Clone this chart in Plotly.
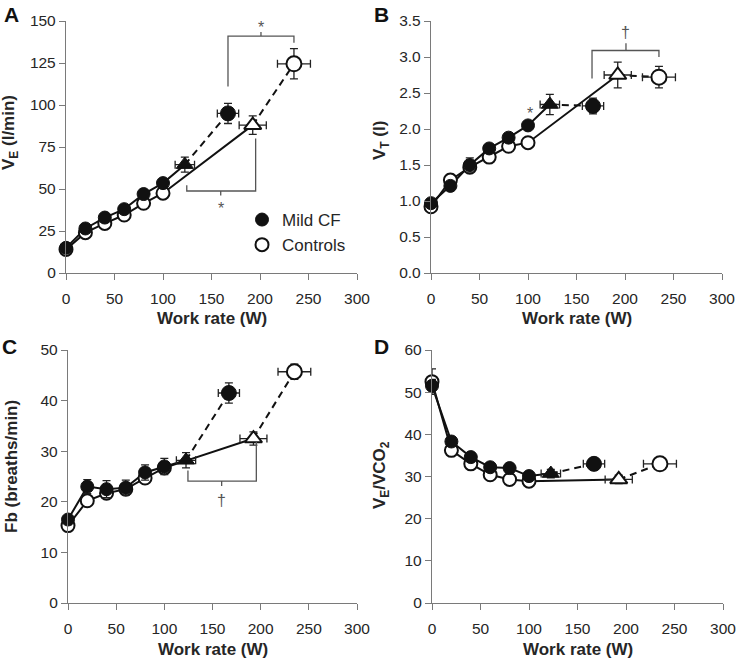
import plotly.graph_objects as go
from plotly.subplots import make_subplots

# ---------------- data ----------------
WORK = [0, 20, 40, 60, 80, 100]           # work rate stages (W)

# threshold (triangle) and peak work rates, with SD (W)
CF_THR_W, CF_THR_WERR = 122.5, 10
CF_PEAK_W, CF_PEAK_WERR = 167, 11
CT_THR_W, CT_THR_WERR = 192.5, 14
CT_PEAK_W, CT_PEAK_WERR = 235, 17

# Panel A: VE (l/min)
VE_CF = [15, 26.5, 33, 38, 47, 53.5]
VE_CF_ERR = [1.5, 1.5, 1.5, 1.5, 1.5, 1.5]
VE_CF_THR, VE_CF_THR_ERR = 64.5, 4.5
VE_CF_PEAK, VE_CF_PEAK_ERR = 95, 6
VE_CT = [14, 24, 29.5, 34.5, 41.5, 47.5]
VE_CT_ERR = [1.5, 1.5, 1.5, 1.5, 1.5, 1.5]
VE_CT_THR, VE_CT_THR_ERR = 88, 5.5
VE_CT_PEAK, VE_CT_PEAK_ERR = 124.5, 9

# Panel B: VT (l)
VT_CF = [0.97, 1.21, 1.50, 1.73, 1.88, 2.05]
VT_CF_ERR = [0.05, 0.05, 0.10, 0.05, 0.05, 0.05]
VT_CF_THR, VT_CF_THR_ERR = 2.34, 0.14
VT_CF_PEAK, VT_CF_PEAK_ERR = 2.32, 0.11
VT_CT = [0.92, 1.29, 1.47, 1.61, 1.76, 1.81]
VT_CT_ERR = [0.05, 0.08, 0.05, 0.05, 0.05, 0.05]
VT_CT_THR, VT_CT_THR_ERR = 2.75, 0.18
VT_CT_PEAK, VT_CT_PEAK_ERR = 2.72, 0.15

# Panel C: Fb (breaths/min)
FB_CF = [16.5, 23, 22.5, 22.8, 25.8, 27]
FB_CF_ERR = [1.0, 1.4, 1.7, 1.5, 1.5, 1.6]
FB_CF_THR, FB_CF_THR_ERR = 28.2, 1.5
FB_CF_PEAK, FB_CF_PEAK_ERR = 41.5, 2.0
FB_CT = [15.3, 20.2, 21.7, 22.5, 24.7, 26.7]
FB_CT_ERR = [1.0, 1.0, 1.0, 1.0, 1.0, 1.0]
FB_CT_THR, FB_CT_THR_ERR = 32.5, 1.3
FB_CT_PEAK, FB_CT_PEAK_ERR = 45.7, 1.5

# Panel D: VE/VCO2
VV_CF = [51.5, 38.3, 34.6, 32.2, 32.0, 30.1]
VV_CF_ERR = [1.5, 1.0, 1.0, 1.0, 1.0, 1.0]
VV_CF_THR, VV_CF_THR_ERR = 30.7, 1.0
VV_CF_PEAK, VV_CF_PEAK_ERR = 33.0, 1.0
VV_CT = [52.5, 36.2, 33.0, 30.4, 29.3, 28.9]
VV_CT_ERR = [3.0, 1.0, 1.0, 1.0, 1.0, 1.0]
VV_CT_THR, VV_CT_THR_ERR = 29.3, 1.0
VV_CT_PEAK, VV_CT_PEAK_ERR = 33.0, 1.0

X_TICKS = [0, 50, 100, 150, 200, 250, 300]
A_TICKS = [0, 25, 50, 75, 100, 125, 150]
B_TICKS = [0.0, 0.5, 1.0, 1.5, 2.0, 2.5, 3.0, 3.5]
C_TICKS = [0, 10, 20, 30, 40, 50]
D_TICKS = [0, 10, 20, 30, 40, 50, 60]

# ---------------- figure ----------------
W, H = 742, 662
FONT = "Arial, Liberation Sans, sans-serif"
AXC = "#7a7a7a"
TXT = "#262626"
INK = "#111111"


def pxx(p):
    return p / W


def pxy(p):
    return 1 - p / H


fig = make_subplots(rows=2, cols=2)

panels = [
    dict(r=1, c=1, cf=VE_CF, cfe=VE_CF_ERR, cft=(VE_CF_THR, VE_CF_THR_ERR), cfp=(VE_CF_PEAK, VE_CF_PEAK_ERR),
         ct=VE_CT, cte=VE_CT_ERR, ctt=(VE_CT_THR, VE_CT_THR_ERR), ctp=(VE_CT_PEAK, VE_CT_PEAK_ERR)),
    dict(r=1, c=2, cf=VT_CF, cfe=VT_CF_ERR, cft=(VT_CF_THR, VT_CF_THR_ERR), cfp=(VT_CF_PEAK, VT_CF_PEAK_ERR),
         ct=VT_CT, cte=VT_CT_ERR, ctt=(VT_CT_THR, VT_CT_THR_ERR), ctp=(VT_CT_PEAK, VT_CT_PEAK_ERR)),
    dict(r=2, c=1, cf=FB_CF, cfe=FB_CF_ERR, cft=(FB_CF_THR, FB_CF_THR_ERR), cfp=(FB_CF_PEAK, FB_CF_PEAK_ERR),
         ct=FB_CT, cte=FB_CT_ERR, ctt=(FB_CT_THR, FB_CT_THR_ERR), ctp=(FB_CT_PEAK, FB_CT_PEAK_ERR)),
    dict(r=2, c=2, cf=VV_CF, cfe=VV_CF_ERR, cft=(VV_CF_THR, VV_CF_THR_ERR), cfp=(VV_CF_PEAK, VV_CF_PEAK_ERR),
         ct=VV_CT, cte=VV_CT_ERR, ctt=(VV_CT_THR, VV_CT_THR_ERR), ctp=(VV_CT_PEAK, VV_CT_PEAK_ERR)),
]

LINE = dict(color=INK, width=2)
DASH = dict(color=INK, width=2, dash="7px,5px")


def ebar(arr):
    return dict(type="data", array=arr, color="#222222", thickness=1.3, width=4)


def open_marker(sym, size):
    return dict(symbol=sym, size=size, color="white", opacity=1, line=dict(color=INK, width=2))


def fill_marker(sym, size):
    return dict(symbol=sym, size=size, color=INK, opacity=1, line=dict(color=INK, width=1))


def pts(x, y, marker, ey, ex=None, name=None, legend=False, rank=1):
    kw = dict(x=x, y=y, mode="markers", marker=marker, cliponaxis=False, showlegend=legend,
              error_y=ebar(ey), hoverinfo="skip")
    if ex is not None:
        kw["error_x"] = ebar(ex)
    if name:
        kw["name"] = name
        kw["legendrank"] = rank
    return go.Scatter(**kw)


for i, p in enumerate(panels):
    r, c = p["r"], p["c"]
    first = i == 0
    # control lines
    fig.add_trace(go.Scatter(x=WORK + [CT_THR_W], y=p["ct"] + [p["ctt"][0]], mode="lines", line=LINE,
                             showlegend=False, hoverinfo="skip"), row=r, col=c)
    fig.add_trace(go.Scatter(x=[CT_THR_W, CT_PEAK_W], y=[p["ctt"][0], p["ctp"][0]], mode="lines", line=DASH,
                             showlegend=False, hoverinfo="skip"), row=r, col=c)
    # CF lines
    fig.add_trace(go.Scatter(x=WORK + [CF_THR_W], y=p["cf"] + [p["cft"][0]], mode="lines", line=LINE,
                             showlegend=False, hoverinfo="skip"), row=r, col=c)
    fig.add_trace(go.Scatter(x=[CF_THR_W, CF_PEAK_W], y=[p["cft"][0], p["cfp"][0]], mode="lines", line=DASH,
                             showlegend=False, hoverinfo="skip"), row=r, col=c)
    # control markers
    fig.add_trace(pts(WORK, p["ct"], open_marker("circle", 13), p["cte"],
                      name="Controls", legend=first, rank=2), row=r, col=c)
    fig.add_trace(pts([CT_PEAK_W], [p["ctp"][0]], open_marker("circle", 15), [p["ctp"][1]],
                      [CT_PEAK_WERR]), row=r, col=c)
    fig.add_trace(pts([CT_THR_W], [p["ctt"][0]], open_marker("triangle-up", 15), [p["ctt"][1]],
                      [CT_THR_WERR]), row=r, col=c)
    # CF markers
    fig.add_trace(pts(WORK, p["cf"], fill_marker("circle", 13), p["cfe"],
                      name="Mild CF", legend=first, rank=1), row=r, col=c)
    fig.add_trace(pts([CF_PEAK_W], [p["cfp"][0]], fill_marker("circle", 15), [p["cfp"][1]],
                      [CF_PEAK_WERR]), row=r, col=c)
    fig.add_trace(pts([CF_THR_W], [p["cft"][0]], fill_marker("triangle-up", 15), [p["cft"][1]],
                      [CF_THR_WERR]), row=r, col=c)

# axes
xdom = {1: [pxx(66), pxx(357)], 2: [pxx(431), pxx(722)], 3: [pxx(68), pxx(357)], 4: [pxx(432), pxx(723)]}
ydom = {1: [pxy(273), pxy(21)], 2: [pxy(273), pxy(21)], 3: [pxy(603), pxy(350)], 4: [pxy(603), pxy(350)]}
yranges = {1: ([0, 150], A_TICKS, None), 2: ([0, 3.5], B_TICKS, ".1f"),
           3: ([0, 50], C_TICKS, None), 4: ([0, 60], D_TICKS, None)}

axis_common = dict(showline=True, linecolor=AXC, linewidth=1.3, ticks="outside", ticklen=6, tickwidth=1.3,
                   tickcolor=AXC, showgrid=False, zeroline=False, automargin=False,
                   tickfont=dict(family=FONT, size=15.5, color=TXT))
for k in range(1, 5):
    sx = "" if k == 1 else str(k)
    fig.layout["xaxis" + sx].update(domain=xdom[k], range=[0, 300], tickvals=X_TICKS,
                                    ticklabelstandoff=5, **axis_common)
    rng, tv, fmt = yranges[k]
    fig.layout["yaxis" + sx].update(domain=ydom[k], range=rng, tickvals=tv, **axis_common)
    if fmt:
        fig.layout["yaxis" + sx].tickformat = fmt

# brackets (shapes)
BR = dict(color="#555555", width=1.3)


def bracket(xref, yref, x1, x2, ylev, y1end, y2end, xm, ymend):
    fig.add_shape(type="path", xref=xref, yref=yref, line=BR,
                  path=f"M {x1},{y1end} L {x1},{ylev} L {x2},{ylev} L {x2},{y2end}")
    fig.add_shape(type="line", xref=xref, yref=yref, line=BR, x0=xm, x1=xm, y0=ylev, y1=ymend)


# A: top bracket (peaks), bottom bracket (thresholds)
bracket("x", "y", CF_PEAK_W, CT_PEAK_W, 141, 111, 137, (CF_PEAK_W + CT_PEAK_W) / 2, 143.5)
bracket("x", "y", 124.5, 195.5, 48.8, 52.2, 80, 159.5, 46.2)
# B: top bracket
bracket("x2", "y2", 166, 235, 3.09, 2.70, 3.0, 201, 3.19)
# C: bottom bracket
bracket("x3", "y3", 124.5, 195.5, 24.1, 26.2, 31.8, 159.5, 23.1)

SIG = dict(family=FONT, size=16, color="#555555")
ann = [
    dict(text="*", x=(CF_PEAK_W + CT_PEAK_W) / 2, y=146, xref="x", yref="y"),
    dict(text="*", x=159.5, y=38.5, xref="x", yref="y"),
    dict(text="\u2020", x=201, y=3.34, xref="x2", yref="y2"),
    dict(text="*", x=102, y=2.22, xref="x2", yref="y2"),
    dict(text="\u2020", x=159.5, y=20.3, xref="x3", yref="y3"),
]
for a in ann:
    fig.add_annotation(showarrow=False, font=SIG, xanchor="center", yanchor="middle", **a)

# axis titles and panel letters as annotations (paper coordinates)
TT = dict(family=FONT, size=17, color=TXT)
titles = [
    ("<b>Work rate (W)</b>", 211.5, 319, 0),
    ("<b>Work rate (W)</b>", 576.5, 319, 0),
    ("<b>Work rate (W)</b>", 212.5, 649, 0),
    ("<b>Work rate (W)</b>", 577.5, 649, 0),
    ("<b>V<sub>E</sub> (l/min)</b>", 10, 133, -90),
    ("<b>V<sub>T</sub> (l)</b>", 381, 141, -90),
    ("<b>Fb (breaths/min)</b>", 12, 467, -90),
    ("<b>V<sub>E</sub>/VCO<sub>2</sub></b>", 381, 475, -90),
]
for t, x, y, ang in titles:
    fig.add_annotation(text=t, x=pxx(x), y=pxy(y), xref="paper", yref="paper", showarrow=False,
                       font=TT, textangle=ang, xanchor="center", yanchor="middle")

LET = dict(family=FONT, size=21, color=INK)
for t, x, y in [("A", 11, 15), ("B", 381, 15), ("C", 9, 346), ("D", 381, 346)]:
    fig.add_annotation(text=f"<b>{t}</b>", x=pxx(x), y=pxy(y), xref="paper", yref="paper", showarrow=False,
                       font=LET, xanchor="center", yanchor="middle")

fig.update_layout(
    template="none",
    width=W, height=H, margin=dict(l=0, r=0, t=0, b=0, pad=0, autoexpand=False),
    paper_bgcolor="white", plot_bgcolor="white",
    font=dict(family=FONT, color=TXT),
    legend=dict(x=pxx(242), y=pxy(202), xanchor="left", yanchor="top", bgcolor="rgba(0,0,0,0)",
                font=dict(family=FONT, size=17, color=TXT), itemwidth=30, tracegroupgap=0,
                borderwidth=0),
)

fig.write_html("out.html", config={"displayModeBar": False},
               post_script="document.body.style.margin='0px';")
